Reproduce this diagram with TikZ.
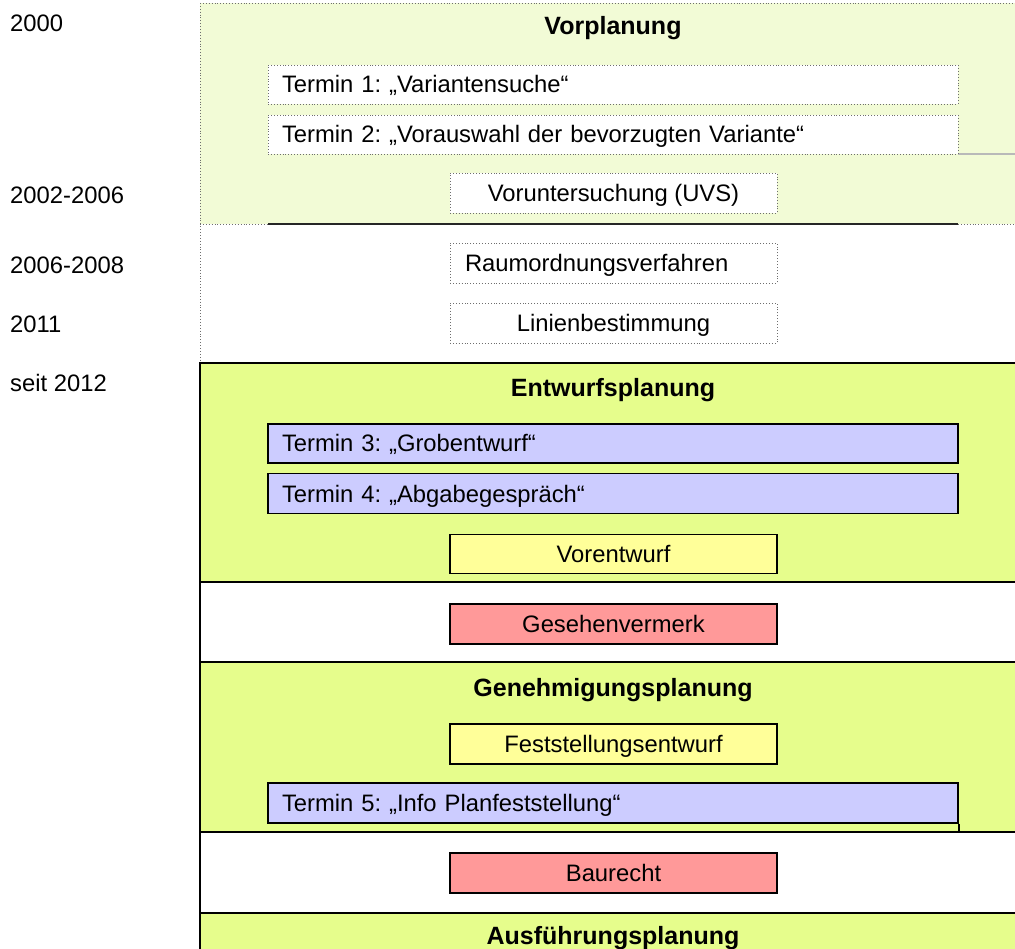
\documentclass[tikz,border=0pt]{standalone}
\usepackage{fontspec}
\setmainfont{Liberation Sans}
\frenchspacing
\definecolor{vorgreen}{RGB}{242,251,214}
\definecolor{entgreen}{RGB}{230,253,140}
\definecolor{lav}{RGB}{204,204,255}
\definecolor{lyel}{RGB}{255,255,153}
\definecolor{lred}{RGB}{255,153,153}
\definecolor{dotgray}{RGB}{110,110,110}
\tikzset{
  txt/.style={font=\fontsize{23.8}{28}\selectfont, text height=17pt, text depth=0pt, inner sep=0pt},
  ttl/.style={font=\fontsize{25}{30}\selectfont\bfseries, text height=18pt, text depth=0pt, inner sep=0pt},
  dotline/.style={draw=dotgray, dotted, line width=0.9pt},
  blk/.style={draw=black, line width=2pt},
  dotbox/.style={txt, draw=dotgray, dotted, line width=0.9pt, fill=white, minimum height=39pt, inner ysep=0pt},
  solidbox/.style={txt, draw=black, line width=1.6pt, minimum height=39pt, inner ysep=0pt},
  widebox/.style={text width=662pt, inner xsep=14pt, align=left},
  midbox/.style={minimum width=327pt, inner xsep=0pt},
  midleft/.style={text width=297pt, inner xsep=15pt, align=left},
}
\begin{document}
\begin{tikzpicture}[x=1pt,y=-1pt]
\useasboundingbox (0,0) rectangle (1015,949);
\clip (0,0) rectangle (1015,949);
% Vorplanung region
\fill[vorgreen] (200,3) rectangle (1030,224);
\draw[dotline] (200,3) -- (1030,3);
\draw[dotline] (200,3) -- (200,363);
\draw[dotline] (200,224) -- (268,224);
\draw[dotline] (958,224) -- (1030,224);
\draw[line width=1.5pt, black!85] (268,224) -- (958,224);
\draw[gray!55, line width=1.5pt] (958,154) -- (1030,154);
% green regions
\fill[entgreen] (200,363) rectangle (1030,582);
\fill[entgreen] (200,662) rectangle (1030,832);
\fill[entgreen] (200,913) rectangle (1030,960);
\draw[blk] (1030,363) -- (200,363) -- (200,960);
\foreach \yy in {582,662,832,913} \draw[blk] (200,\yy) -- (1030,\yy);

% year labels
\node[txt, anchor=west] (y1) at (10,23.5) {2000};
\node[txt, anchor=west] (y2) at (10,195) {2002-2006};
\node[txt, anchor=west] (y3) at (10,265) {2006-2008};
\node[txt, anchor=west] (y4) at (10,324) {2011};
\node[txt, anchor=west] (y5) at (10,383) {seit 2012};

% Vorplanung
\node[ttl] (vorpl) at (613,26) {Vorplanung};
\node[dotbox, widebox] (t1) at (613,84.5) {Termin 1: „Variantensuche“};
\node[dotbox, widebox] (t2) at (613,134.5) {Termin 2: „Vorauswahl der bevorzugten Variante“};
\node[dotbox, midbox, minimum height=40pt] (uvs) at (613.5,193) {Voruntersuchung (UVS)};
\node[dotbox, midleft, minimum height=40pt] (raum) at (613.5,263) {Raumordnungsverfahren};
\node[dotbox, midbox, minimum height=40pt] (lin) at (613.5,323) {Linienbestimmung};

% Entwurfsplanung
\node[ttl] (entw) at (613,388) {Entwurfsplanung};
\node[solidbox, widebox, fill=lav] (t3) at (613,443.5) {Termin 3: „Grobentwurf“};
\node[solidbox, widebox, fill=lav, minimum height=40pt] (t4) at (613,493.5) {Termin 4: „Abgabegespräch“};
\node[solidbox, midbox, fill=lyel] (vorent) at (613.5,554) {Vorentwurf};
\node[solidbox, midbox, fill=lred, minimum height=40pt] (geseh) at (613.5,624) {Gesehenvermerk};

% Genehmigungsplanung
\node[ttl] (gen) at (613,687) {Genehmigungsplanung};
\node[solidbox, midbox, fill=lyel, minimum height=40pt] (fest) at (613.5,744) {Feststellungsentwurf};
\node[solidbox, widebox, fill=lav, minimum height=40pt] (t5) at (613,803) {Termin 5: „Info Planfeststellung“};
\coordinate (t5end) at (t5.south east |- 0,832);
\draw[line width=1.6pt] (t5.south east) -- (t5end);
\node[solidbox, midbox, fill=lred, minimum height=40pt] (bau) at (613.5,873) {Baurecht};

% Ausfuehrungsplanung
\node[ttl] (ausf) at (613,935.5) {Ausführungsplanung};
\end{tikzpicture}
\end{document}
